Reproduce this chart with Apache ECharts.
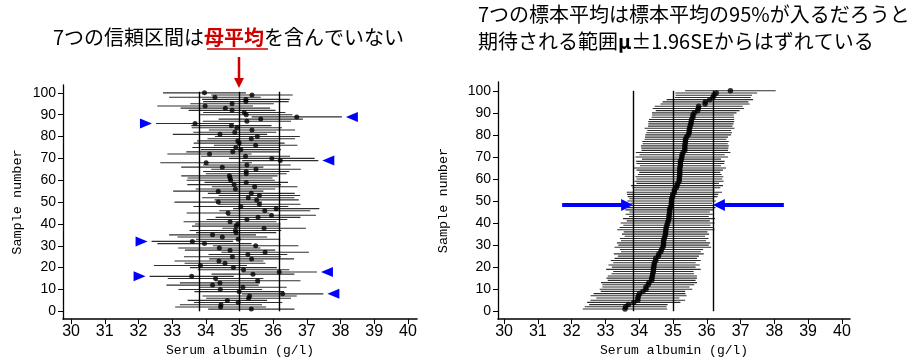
<!DOCTYPE html>
<html><head><meta charset="utf-8">
<script src="https://cdn.jsdelivr.net/npm/echarts@6/dist/echarts.min.js"></script>
<style>html,body{margin:0;padding:0;background:#fff}#c{width:907px;height:362px}</style>
</head><body><div id="c"></div><script>
// ---- data ----
const sampleNumbers = [
  1,2,3,4,5,6,7,8,9,10,11,12,13,14,15,16,17,18,19,20,
  21,22,23,24,25,26,27,28,29,30,31,32,33,34,35,36,37,38,39,40,
  41,42,43,44,45,46,47,48,49,50,51,52,53,54,55,56,57,58,59,60,
  61,62,63,64,65,66,67,68,69,70,71,72,73,74,75,76,77,78,79,80,
  81,82,83,84,85,86,87,88,89,90,91,92,93,94,95,96,97,98,99,100
];
const sampleMeans = [
  35.35,34.44,34.45,34.96,34.64,35.27,35.30,36.28,34.99,34.43,
  35.10,34.20,34.42,35.54,34.29,33.58,35.40,36.18,35.12,34.82,
  33.84,34.57,34.39,35.36,34.79,35.25,35.76,34.72,34.40,35.48,
  33.96,33.60,34.96,34.49,34.20,34.90,34.88,35.73,34.90,34.95,
  34.72,35.22,35.55,35.95,34.66,35.75,36.09,35.04,35.59,34.37,
  35.51,35.26,35.59,35.35,34.37,34.88,35.45,34.84,35.20,34.74,
  34.72,34.70,35.20,35.20,35.49,34.49,35.22,34.01,36.21,35.96,
  35.18,34.11,34.80,35.04,34.89,35.48,34.99,34.95,35.35,35.53,
  34.42,34.86,35.37,34.92,34.76,33.68,35.22,35.63,36.70,35.20,
  35.14,34.78,34.58,33.98,34.78,35.19,35.19,34.27,35.37,33.96
];
const halfWidths = [
  1.28,1.35,1.22,1.31,1.18,1.26,1.40,1.21,1.33,1.24,
  1.30,1.37,1.19,1.27,1.42,1.25,1.23,1.12,1.36,1.29,
  1.38,1.20,1.32,1.26,1.44,1.17,1.30,1.34,1.22,1.27,
  1.40,1.21,1.25,1.33,1.29,1.19,1.36,1.24,1.31,1.27,
  1.38,1.20,1.26,1.32,1.23,1.35,1.28,1.41,1.22,1.30,
  1.25,1.37,1.21,1.29,1.34,1.18,1.27,1.39,1.24,1.31,
  1.26,1.43,1.20,1.28,1.33,1.22,1.30,1.36,1.13,1.27,
  1.32,1.25,1.38,1.19,1.29,1.24,1.35,1.21,1.30,1.26,
  1.40,1.23,1.28,1.34,1.19,1.16,1.31,1.25,1.34,1.37,
  1.22,1.29,1.33,1.42,1.24,1.27,1.30,1.36,1.21,1.23
];
const populationMean = 35.0;
const expectedLow = 33.82;
const expectedHigh = 36.18;
const xTickValues = [30,31,32,33,34,35,36,37,38,39,40];
const yTickValues = [0,10,20,30,40,50,60,70,80,90,100];
const xAxisTitle = 'Serum albumin (g/l)';
const yAxisTitle = 'Sample number';
const leftTitle = '7つの信頼区間は{r|母平均}を含んでいない';
const rightTitle = '7つの標本平均は標本平均の95%が入るだろうと\n期待される範囲{b|μ}±1.96SEからはずれている';

// ---- build rows ----
const leftRows = sampleNumbers.map((n, i) => [sampleMeans[i], n, sampleMeans[i] - halfWidths[i], sampleMeans[i] + halfWidths[i]]);
const sortedIdx = sampleNumbers.map((n, i) => i).sort((a, b) => sampleMeans[a] - sampleMeans[b]);
const rightRows = sortedIdx.map((i, k) => [sampleMeans[i], sampleNumbers[k], sampleMeans[i] - halfWidths[i], sampleMeans[i] + halfWidths[i]]);

const chart = echarts.init(document.getElementById('c'), null, {renderer: 'canvas'});

function xAxisCfg(gi, min, max) {
  return {
    type: 'value', gridIndex: gi, min: min, max: max,
    name: xAxisTitle, nameLocation: 'middle', nameGap: 22,
    nameTextStyle: {fontFamily: 'Liberation Mono, DejaVu Sans Mono, monospace', fontSize: 13, color: '#000'},
    axisLine: {show: true, onZero: false, lineStyle: {color: '#000', width: 1.6}},
    axisTick: {show: true, customValues: xTickValues, length: 5, lineStyle: {color: '#000', width: 1}},
    axisLabel: {customValues: xTickValues, fontFamily: 'Liberation Sans, Arial, sans-serif', fontSize: 16, color: '#000', margin: 4},
    splitLine: {show: false}
  };
}
function yAxisCfg(gi, min, max, gap) {
  return {
    type: 'value', gridIndex: gi, min: min, max: max,
    name: yAxisTitle, nameLocation: 'middle', nameGap: gap,
    nameTextStyle: {fontFamily: 'Liberation Mono, DejaVu Sans Mono, monospace', fontSize: 13.5, color: '#000'},
    axisLine: {show: true, onZero: false, lineStyle: {color: '#000', width: 1.3}},
    axisTick: {show: true, customValues: yTickValues, length: 5, lineStyle: {color: '#000', width: 1}},
    axisLabel: {customValues: yTickValues, fontFamily: 'Liberation Sans, Arial, sans-serif', fontSize: 14, color: '#000', margin: 7},
    splitLine: {show: false}
  };
}

function renderCI(params, api) {
  const y = api.value(1);
  const p1 = api.coord([api.value(2), y]);
  const p2 = api.coord([api.value(3), y]);
  return {type: 'line', shape: {x1: p1[0], y1: p1[1], x2: p2[0], y2: p2[1]},
          style: {stroke: '#2e2e2e', lineWidth: 1.1}};
}

function refLines(top) {
  return {
    silent: true, symbol: 'none', label: {show: false},
    lineStyle: {color: '#000', width: 1.4, type: 'solid'},
    data: [expectedLow, populationMean, expectedHigh].map(v => [{coord: [v, 0]}, {coord: [v, top]}])
  };
}

chart.setOption({
  animation: false,
  backgroundColor: '#fff',
  grid: [
    {left: 63, right: 490, top: 85, bottom: 37},
    {left: 498, right: 57, top: 82, bottom: 39}
  ],
  xAxis: [xAxisCfg(0, 29.76, 40.27), xAxisCfg(1, 29.82, 40.24)],
  yAxis: [yAxisCfg(0, -3.57, 103.6, 39), yAxisCfg(1, -3.57, 104, 48)],
  series: [
    {type: 'custom', xAxisIndex: 0, yAxisIndex: 0, renderItem: renderCI, data: leftRows,
     encode: {x: [2, 3], y: 1}, silent: true},
    {type: 'scatter', xAxisIndex: 0, yAxisIndex: 0, data: leftRows.map(r => [r[0], r[1]]),
     symbolSize: 5, itemStyle: {color: '#000'}, silent: true, z: 3,
     markLine: refLines(100.5)},
    {type: 'custom', xAxisIndex: 1, yAxisIndex: 1, renderItem: renderCI, data: rightRows,
     encode: {x: [2, 3], y: 1}, silent: true},
    {type: 'scatter', xAxisIndex: 1, yAxisIndex: 1, data: rightRows.map(r => [r[0], r[1]]),
     symbolSize: 5.5, itemStyle: {color: '#000'}, silent: true, z: 3,
     markLine: refLines(100)}
  ]
});

// ---- annotations positioned from data through the axes ----
const g = [];
const titleFont = '"Noto Sans CJK JP", "Noto Sans", sans-serif';
g.push({type: 'text', left: 53, top: 27, style: {
  text: leftTitle, fontSize: 20, fontFamily: titleFont, fill: '#000',
  rich: {r: {fontSize: 20, fontFamily: titleFont, fontWeight: 'bold', fill: '#d00000'}}
}});
g.push({type: 'text', left: 478, top: 1, style: {
  text: rightTitle, fontSize: 20, fontFamily: titleFont, fill: '#000', lineHeight: 27,
  rich: {b: {fontSize: 20, fontFamily: titleFont, fontWeight: 'bold', fill: '#000', lineHeight: 27}}
}});
// underline under 母平均
g.push({type: 'line', shape: {x1: 207, y1: 49, x2: 268, y2: 49}, style: {stroke: '#d00000', lineWidth: 1.4}});

// red arrow pointing at population mean (left panel)
const muTop = chart.convertToPixel({gridIndex: 0}, [populationMean, 100.5]);
const ax = Math.round(muTop[0]);
g.push({type: 'line', shape: {x1: ax, y1: 57, x2: ax, y2: 79}, style: {stroke: '#d00000', lineWidth: 2.5}});
g.push({type: 'polygon', shape: {points: [[ax - 5, 78], [ax + 5, 78], [ax, 88]]}, style: {fill: '#d00000'}});

// blue triangles next to intervals that miss the population mean
leftRows.forEach(r => {
  const [m, n, lo, hi] = r;
  if (hi < populationMean) {
    const p = chart.convertToPixel({gridIndex: 0}, [lo, n]);
    const tx = p[0] - 4, ty = p[1];
    g.push({type: 'polygon', shape: {points: [[tx - 12, ty - 5], [tx, ty], [tx - 12, ty + 5]]}, style: {fill: '#0000ff'}});
  } else if (lo > populationMean) {
    const p = chart.convertToPixel({gridIndex: 0}, [hi, n]);
    const tx = p[0] + 4, ty = p[1];
    g.push({type: 'polygon', shape: {points: [[tx + 12, ty - 5], [tx, ty], [tx + 12, ty + 5]]}, style: {fill: '#0000ff'}});
  }
});

// blue arrows at the expected range (right panel)
const arrowY = 48.2;
const pl = chart.convertToPixel({gridIndex: 1}, [expectedLow, arrowY]);
const pr = chart.convertToPixel({gridIndex: 1}, [expectedHigh, arrowY]);
const lx = pl[0], ly = pl[1], rx = pr[0];
g.push({type: 'rect', shape: {x: lx - 71, y: ly - 2, width: 60, height: 4}, style: {fill: '#0000ff'}});
g.push({type: 'polygon', shape: {points: [[lx - 12, ly - 6], [lx, ly], [lx - 12, ly + 6]]}, style: {fill: '#0000ff'}});
g.push({type: 'rect', shape: {x: rx + 11, y: ly - 2, width: 60, height: 4}, style: {fill: '#0000ff'}});
g.push({type: 'polygon', shape: {points: [[rx + 12, ly - 6], [rx, ly], [rx + 12, ly + 6]]}, style: {fill: '#0000ff'}});

chart.setOption({graphic: g});
</script></body></html>
